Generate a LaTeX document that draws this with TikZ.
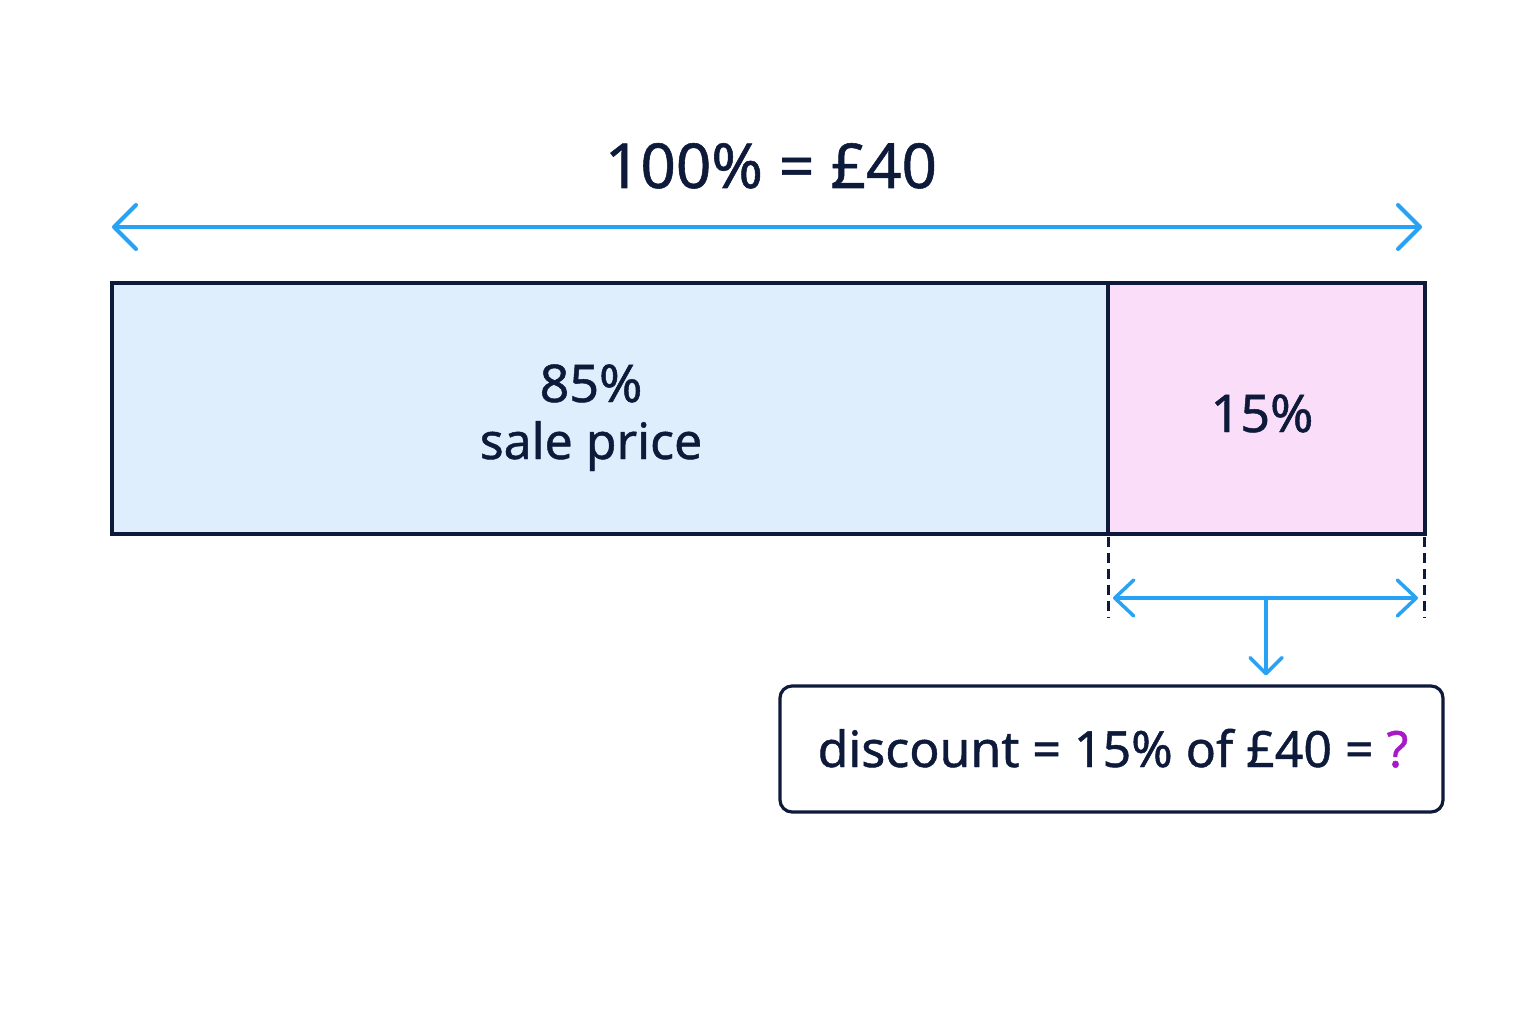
\documentclass[tikz,border=0pt]{standalone}
\usepackage{fontspec}
\setmainfont{Noto Sans}[FakeBold=0.9]
\usetikzlibrary{arrows.meta}
\definecolor{ink}{HTML}{0E1A3A}
\definecolor{arrowblue}{HTML}{27A2F4}
\definecolor{barblue}{HTML}{DFEEFC}
\definecolor{barpink}{HTML}{FADDF9}
\definecolor{qpurple}{HTML}{A61BC6}
\tikzset{
  barpart/.style={draw=ink, line width=3.5pt, minimum height=251pt, inner sep=0pt, outer sep=0pt},
  lbl/.style={text=ink, anchor=base, inner sep=0pt, font=\fontsize{52}{60}\selectfont},
  bigarrow/.style={draw=arrowblue, line width=4pt, line cap=round,
    {Straight Barb[length=22pt,width=44pt,round]}-{Straight Barb[length=22pt,width=44pt,round]}},
  smallarrow/.style={draw=arrowblue, line width=3.5pt, line cap=round,
    {Straight Barb[length=19pt,width=36pt,round]}-{Straight Barb[length=19pt,width=36pt,round]}},
  downarrow/.style={draw=arrowblue, line width=3.5pt, line cap=round,
    -{Straight Barb[length=16pt,width=32pt,round]}},
  guide/.style={draw=ink, line width=3pt, dash pattern=on 10pt off 6pt},
  resultbox/.style={draw=ink, line width=3.2pt, rounded corners=12pt, fill=white,
    minimum width=663pt, minimum height=126pt, inner sep=0pt}
}
\begin{document}
\begin{tikzpicture}[x=1pt,y=-1pt]
\fill[white] (0,0) rectangle (1536,1024);
\useasboundingbox (0,0) rectangle (1536,1024);

% title and top arrow
\node[lbl, font=\fontsize{62}{70}\selectfont] (title) at (771,188) {100\% = £40};
\coordinate (tl) at (112,227);
\coordinate (tr) at (1422,227);
\draw[bigarrow] (tl) -- (tr);

% bar
\node[barpart, fill=barblue, minimum width=996pt] (sale) at (610,408.5) {};
\node[barpart, fill=barpink, minimum width=317pt] (disc) at (1266.5,408.5) {};
\node[lbl] (p85) at (591,402) {85\%};
\node[lbl, font=\fontsize{50}{58}\selectfont] (sp) at (591,459) {sale price};
\node[lbl] (p15) at (1262,432) {15\%};

% guides
\coordinate (gl) at (1108,618);
\coordinate (gr) at (1424,618);
\draw[guide] ([yshift=-3pt]disc.south west) -- (gl);
\draw[guide] ([xshift=-1pt,yshift=-3pt]disc.south east) -- (gr);

% lower arrow
\coordinate (al) at (1113,598);
\coordinate (ar) at (1418,598);
\coordinate (am) at (1266,598);
\draw[smallarrow] (al) -- (ar);

% result box
\node[resultbox] (res) at (1111.5,749) {};
\node[lbl, font=\fontsize{50}{58}\selectfont] (restext) at (1113,767) {discount = 15\% of £40 = \textcolor{qpurple}{?}};
\draw[downarrow, shorten >=9pt] (am) -- (am |- res.north);
\end{tikzpicture}
\end{document}
